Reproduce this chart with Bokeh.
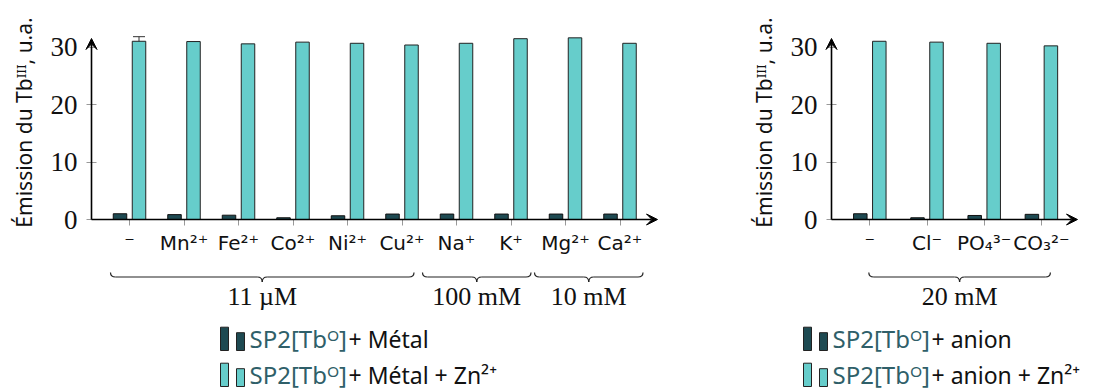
import numpy as np
from bokeh.plotting import figure
from bokeh.layouts import row
from bokeh.models import Range1d, FixedTicker, Arrow, VeeHead, Whisker, TeeHead, ColumnDataSource
from bokeh.core.properties import value
from bokeh.embed import file_html
from bokeh.resources import INLINE

# ---------------- data ----------------
metals = ["⁻", "Mn²⁺", "Fe²⁺", "Co²⁺", "Ni²⁺", "Cu²⁺", "Na⁺", "K⁺", "Mg²⁺", "Ca²⁺"]
metal_alone = [1.0, 0.85, 0.75, 0.3, 0.65, 0.95, 0.95, 0.95, 0.95, 0.95]
metal_zn = [31.05, 31.0, 30.6, 30.9, 30.7, 30.4, 30.7, 31.5, 31.65, 30.7]
metal_zn_err = [0.8, 0, 0, 0, 0, 0, 0, 0, 0, 0]
metal_groups = ["11 µM", "100 mM", "10 mM"]
metal_group_span = [(0, 5), (6, 7), (8, 9)]

anions = ["⁻", "Cl⁻", "PO₄³⁻", "CO₃²⁻"]
anion_alone = [1.0, 0.3, 0.7, 0.9]
anion_zn = [31.05, 30.9, 30.7, 30.25]
anion_zn_err = [0, 0, 0, 0]
anion_groups = ["20 mM"]
anion_group_span = [(0, 3)]

y_ticks = [0, 10, 20, 30]
y_label = "Émission du Tbᴵᴵᴵ, u.a."
legend_name = "SP2[Tbᴼ]"

DARK = "#1e4a52"
TEAL = "#66cdcb"
NAME_COL = "#2f5f69"
SANS = "Noto Sans"
CAT_FONT = "DejaVu Sans"
SERIF = "Liberation Serif"

H = 392
Y0_PX = 219.0      # page y of value 0
PPU = 5.74         # px per unit


def panel(cats, alone, zn, err, groups, spans, brace_pad, word,
          fig_left, width, tick0, step, yaxis_px, xtip_px, leg_x):
    n = len(cats)
    X = lambda px: (px - tick0) / step
    Y = lambda py: (Y0_PX - py) / PPU
    p = figure(width=width, height=H, output_backend="svg", toolbar_location=None,
               x_range=Range1d(X(fig_left), X(fig_left + width)),
               y_range=Range1d(Y(H), Y(0)),
               min_border=0, outline_line_color=None)
    p.grid.visible = False

    idx = np.arange(n)
    off = 9.5 / step
    bw = 13.5 / step
    p.vbar(x=idx - off, top=alone, bottom=0, width=bw, fill_color=DARK,
           line_color="#111111", line_width=1)
    p.vbar(x=idx + off, top=zn, bottom=0, width=bw, fill_color=TEAL,
           line_color="#222222", line_width=1)

    e = np.array(err)
    m = e > 0
    if m.any():
        src = ColumnDataSource(dict(x=(idx + off)[m], up=(np.array(zn) + e)[m],
                                    lo=(np.array(zn) - e)[m]))
        p.add_layout(Whisker(source=src, base="x", upper="up", lower="lo",
                             line_color="#333333", line_width=1,
                             upper_head=TeeHead(size=12, line_color="#333333"),
                             lower_head=TeeHead(size=12, line_color="#333333")))

    # axes
    yx = X(yaxis_px)
    xa = p.xaxis[0]
    xa.fixed_location = 0
    xa.ticker = FixedTicker(ticks=list(range(n)))
    xa.major_label_overrides = {i: c for i, c in enumerate(cats)}
    xa.axis_line_color = None
    xa.major_tick_in = 0
    xa.major_tick_out = 6
    xa.major_tick_line_color = "#999999"
    xa.minor_tick_line_color = None
    xa.major_label_text_font = CAT_FONT
    xa.major_label_text_font_size = "20px"
    xa.major_label_text_color = "#111111"
    xa.major_label_standoff = 5

    ya = p.yaxis[0]
    ya.fixed_location = yx
    ya.ticker = FixedTicker(ticks=y_ticks)
    ya.axis_line_color = None
    ya.major_tick_in = 5
    ya.major_tick_out = 5
    ya.major_tick_line_color = "#999999"
    ya.minor_tick_line_color = None
    ya.major_label_text_font = SERIF
    ya.major_label_text_font_size = "27px"
    ya.major_label_text_color = "#111111"
    ya.major_label_standoff = 9

    p.add_layout(Arrow(x_start=yx, y_start=0, x_end=X(xtip_px), y_end=0,
                       line_width=1.6, line_color="black",
                       end=VeeHead(size=11, fill_color="black", line_color="black")))
    p.add_layout(Arrow(x_start=yx, y_start=0, x_end=yx, y_end=Y(38),
                       line_width=1.6, line_color="black",
                       end=VeeHead(size=11, fill_color="black", line_color="black")))

    # y label
    p.text(x=[X(yaxis_px - 68)], y=[Y(122)], text=[y_label], angle=np.pi / 2,
           text_align="center", text_baseline="middle",
           text_font=value(SANS), text_font_size="21px", text_color="#111111")

    # braces
    for (a, b), (pl, pr), lab in zip(spans, brace_pad, groups):
        xl = a - pl / step
        xr = b + pr / step
        xm = 0.5 * (xl + xr)
        r = 5.0 / step
        yt, yh, yp = Y(272), Y(276.5), Y(281.5)
        p.quadratic(x0=[xl, xm, xm, xr], y0=[yt, yp, yp, yt],
                    x1=[xl + r, xm - r, xm + r, xr - r], y1=[yh, yh, yh, yh],
                    cx=[xl, xm, xm, xr], cy=[yh, yh, yh, yh],
                    line_color="#222222", line_width=1.2)
        p.segment(x0=[xl + r, xm + r], y0=[yh, yh], x1=[xm - r, xr - r], y1=[yh, yh],
                  line_color="#222222", line_width=1.2)
        p.text(x=[xm], y=[Y(296)], text=[lab], text_align="center",
               text_baseline="middle", text_font=value(SERIF),
               text_font_size="26px", text_color="#111111")

    # legend
    for k, (col, suffix) in enumerate([(DARK, " " + word), (TEAL, " " + word + " + Zn²⁺")]):
        top = 326.7 + 36 * k
        bot = 350 + 36 * k
        p.quad(left=[X(leg_x)], right=[X(leg_x + 8)], top=[Y(top)], bottom=[Y(bot)],
               fill_color=col, line_color="#222222", line_width=1)
        p.quad(left=[X(leg_x + 16)], right=[X(leg_x + 24)], top=[Y(top + 5.5)], bottom=[Y(bot)],
               fill_color=col, line_color="#222222", line_width=1)
        p.text(x=[X(leg_x + 29)], y=[Y(bot - 12)], text=[legend_name],
               text_align="left", text_baseline="alphabetic", text_font=value(SANS),
               text_font_size="24px", text_color=NAME_COL)
        p.text(x=[X(leg_x + 128)], y=[Y(bot - 12)], text=["+" + suffix],
               text_align="left", text_baseline="alphabetic", text_font=value(SANS),
               text_font_size="23px", text_color="#111111")
    return p


left = panel(metals, metal_alone, metal_zn, metal_zn_err, metal_groups, metal_group_span,
             [(19, 12), (34, 20), (31, 23)], "Métal",
             fig_left=0, width=700, tick0=129.0, step=54.5, yaxis_px=91, xtip_px=657, leg_x=220)
right = panel(anions, anion_alone, anion_zn, anion_zn_err, anion_groups, anion_group_span,
              [(1, 9)], "anion",
              fig_left=700, width=402, tick0=869.3, step=57.2, yaxis_px=831, xtip_px=1077, leg_x=803)

layout = row(left, right)
open("out.html", "w").write(file_html(layout, INLINE))
